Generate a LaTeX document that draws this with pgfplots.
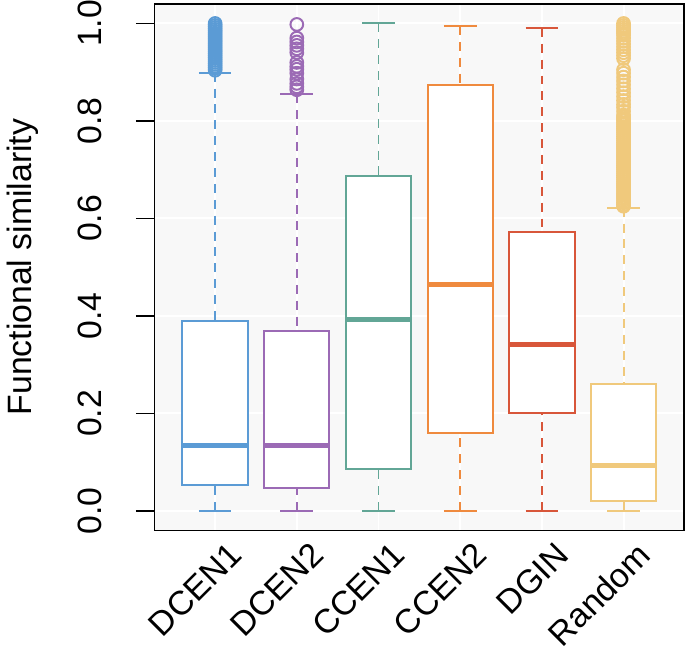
\documentclass[border=0pt]{standalone}
\usepackage{fontspec}
\setmainfont{Liberation Sans}
\usepackage{pgfplots}
\pgfplotsset{compat=1.18}
\usepgfplotslibrary{statistics}

\definecolor{cDA}{RGB}{91,155,213}
\definecolor{cDB}{RGB}{155,106,181}
\definecolor{cCA}{RGB}{98,166,150}
\definecolor{cCB}{RGB}{239,138,62}
\definecolor{cDG}{RGB}{216,86,58}
\definecolor{cRA}{RGB}{240,201,124}
\definecolor{panel}{RGB}{248,248,248}

% dashed whisker, solid staple
\pgfplotsset{
  /pgfplots/boxplot/draw/lower whisker/.code={%
    \draw[/pgfplots/boxplot/every whisker/.try, dash pattern=on 4.5pt off 3.5pt]
      (boxplot cs:\pgfplotsboxplotvalue{lower whisker})
      -- (boxplot cs:\pgfplotsboxplotvalue{lower quartile});
    \draw[/pgfplots/boxplot/every whisker/.try]
      (boxplot whisker cs:\pgfplotsboxplotvalue{lower whisker},0)
      -- (boxplot whisker cs:\pgfplotsboxplotvalue{lower whisker},1);
  },
  /pgfplots/boxplot/draw/upper whisker/.code={%
    \draw[/pgfplots/boxplot/every whisker/.try, dash pattern=on 4.5pt off 3.5pt]
      (boxplot cs:\pgfplotsboxplotvalue{upper whisker})
      -- (boxplot cs:\pgfplotsboxplotvalue{upper quartile});
    \draw[/pgfplots/boxplot/every whisker/.try]
      (boxplot whisker cs:\pgfplotsboxplotvalue{upper whisker},0)
      -- (boxplot whisker cs:\pgfplotsboxplotvalue{upper whisker},1);
  },
  bx/.style={
    solid, line width=1pt, mark=o, mark size=3.2pt,
    mark options={solid, line width=1pt},
    boxplot/every box/.style={fill=white, draw=#1},
    boxplot/every median/.style={line width=2.6pt, draw=#1},
    boxplot/every whisker/.style={draw=#1},
    draw=#1,
  },
}

\begin{document}
\begin{tikzpicture}
\begin{axis}[
  width=266.5pt, height=265pt, scale only axis,
  xmin=0.26, xmax=6.74, ymin=-0.04, ymax=1.04,
  font=\fontsize{17}{20}\selectfont,
  axis line style={line width=0.8pt},
  axis background/.style={fill=panel},
  grid=major, grid style={white, line width=1pt},
  xtick={1,2,3,4,5,6},
  xticklabels={DCEN1,DCEN2,CCEN1,CCEN2,DGIN,Random},
  x tick style={draw=none},
  xticklabel style={xshift=6pt, rotate=45, anchor=north east, inner sep=1pt},
  xticklabel shift=-6pt,
  ytick={0,0.2,...,1.0},
  yticklabels={0.0,0.2,0.4,0.6,0.8,1.0},
  ytick pos=left, xtick pos=bottom,
  tick align=outside, major tick length=9.5pt,
  y tick style={line width=0.8pt, black},
  yticklabel style={rotate=90, anchor=south, inner sep=0pt},
  yticklabel shift=17pt,
  ylabel={Functional similarity},
  ylabel style={at={(axis description cs:-0.25,0.5)}, anchor=center, rotate=0},
  boxplot/draw direction=y,
]

\addplot[bx=cDA, boxplot prepared={draw position=1, box extend=0.8, whisker extend=0.4,
  lower whisker=0, lower quartile=0.052, median=0.134, upper quartile=0.389, upper whisker=0.899}]
  table[row sep=\\, y index=0] {v\\
  0.904\\ 0.908\\ 0.912\\ 0.916\\ 0.920\\ 0.924\\ 0.928\\ 0.932\\ 0.936\\ 0.940\\
  0.944\\ 0.948\\ 0.952\\ 0.956\\ 0.960\\ 0.964\\ 0.968\\ 0.972\\ 0.976\\ 0.980\\
  0.984\\ 0.988\\ 0.992\\ 0.996\\ 1.000\\ };

\addplot[bx=cDB, boxplot prepared={draw position=2, box extend=0.8, whisker extend=0.4,
  lower whisker=0, lower quartile=0.046, median=0.134, upper quartile=0.369, upper whisker=0.855}]
  table[row sep=\\, y index=0] {v\\
  0.864\\ 0.870\\ 0.877\\ 0.886\\ 0.898\\ 0.906\\ 0.912\\ 0.920\\ 0.940\\ 0.948\\
  0.955\\ 0.962\\ 0.970\\ 0.998\\ };

\addplot[bx=cCA, boxplot prepared={draw position=3, box extend=0.8, whisker extend=0.4,
  lower whisker=0, lower quartile=0.085, median=0.392, upper quartile=0.688, upper whisker=1.0}]
  coordinates {};

\addplot[bx=cCB, boxplot prepared={draw position=4, box extend=0.8, whisker extend=0.4,
  lower whisker=0, lower quartile=0.160, median=0.464, upper quartile=0.874, upper whisker=0.995}]
  coordinates {};

\addplot[bx=cDG, boxplot prepared={draw position=5, box extend=0.8, whisker extend=0.4,
  lower whisker=0, lower quartile=0.200, median=0.341, upper quartile=0.573, upper whisker=0.991}]
  coordinates {};

\addplot[bx=cRA, boxplot prepared={draw position=6, box extend=0.8, whisker extend=0.4,
  lower whisker=0, lower quartile=0.021, median=0.093, upper quartile=0.260, upper whisker=0.622}]
  table[row sep=\\, y index=0] {v\\
  0.625\\ 0.628\\ 0.632\\ 0.636\\ 0.640\\ 0.644\\ 0.648\\ 0.652\\ 0.656\\ 0.660\\
  0.664\\ 0.668\\ 0.672\\ 0.676\\ 0.680\\ 0.684\\ 0.688\\ 0.692\\ 0.696\\ 0.700\\
  0.704\\ 0.708\\ 0.712\\ 0.716\\ 0.720\\ 0.724\\ 0.728\\ 0.732\\ 0.736\\ 0.740\\
  0.744\\ 0.748\\ 0.752\\ 0.756\\ 0.760\\ 0.764\\ 0.768\\ 0.772\\ 0.776\\ 0.780\\
  0.784\\ 0.788\\ 0.792\\ 0.796\\ 0.800\\ 0.804\\ 0.808\\ 0.812\\ 0.820\\ 0.828\\
  0.834\\ 0.842\\ 0.850\\ 0.858\\ 0.866\\ 0.874\\ 0.882\\ 0.890\\ 0.898\\ 0.905\\
  0.928\\ 0.934\\ 0.940\\ 0.946\\ 0.952\\ 0.958\\ 0.964\\ 0.970\\ 0.976\\ 0.980\\
  0.984\\ 0.988\\ 0.992\\ 0.996\\ 1.000\\ };

\end{axis}
\end{tikzpicture}
\end{document}
